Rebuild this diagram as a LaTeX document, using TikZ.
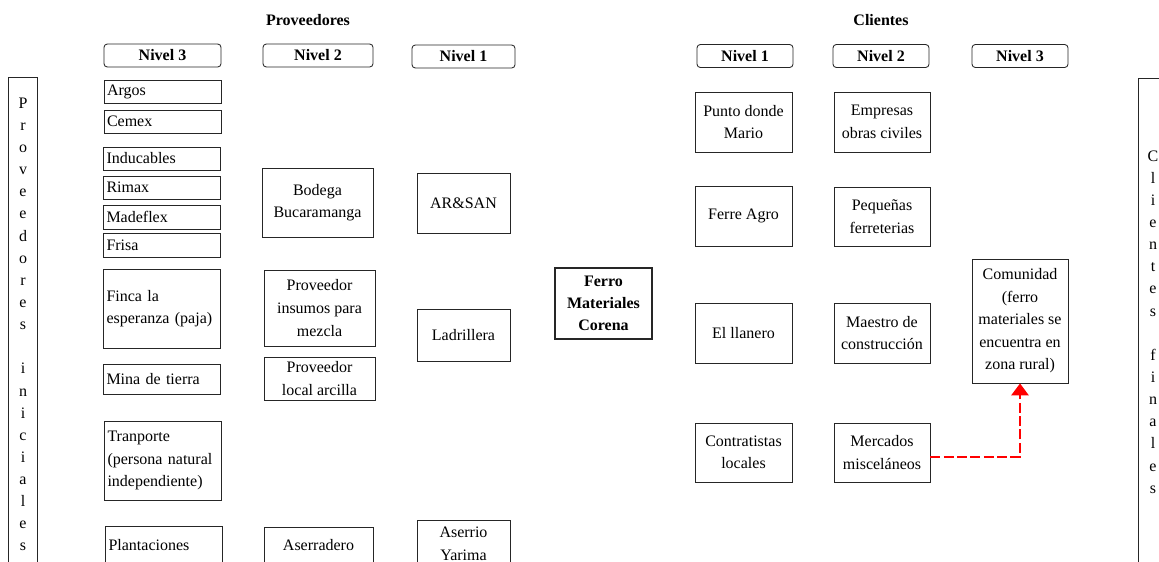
\documentclass[tikz,border=0pt]{standalone}
\usepackage{fontspec}
\setmainfont{Liberation Serif}
\usetikzlibrary{arrows.meta}

\begin{document}
\begin{tikzpicture}[x=0.75pt,y=-0.75pt,
    caja/.style 2 args={draw=black!85,rectangle,line width=0.65pt,minimum width=#1*0.75pt,minimum height=#2*0.75pt,
        inner sep=2pt,align=center,font=\fontsize{12}{16.9}\selectfont},
    cajaizq/.style={caja={117}{#1},align=left,text width=83.25pt,inner xsep=2.25pt},
    nivel/.style={caja={#1}{23},rounded corners=2.5pt,font=\bfseries\fontsize{12}{14}\selectfont},
    titulo/.style={font=\bfseries\fontsize{12}{14}\selectfont},
    vertical/.style={caja={29}{#1},anchor=north,font=\fontsize{12}{16.6}\selectfont},
    flecha/.style={red,line width=1.5pt,dash pattern=on 7.5pt off 2.5pt,-{Triangle[width=13pt,length=9pt]}}]
    \clip (0,0) rectangle (1159,561);

    % encabezados
    \node[titulo] (proveedores) at (308,20) {Proveedores};
    \node[titulo] (clientes) at (881,20) {Clientes};
    \node[nivel=117] (pnivel3) at (162.5,55.5) {Nivel 3};
    \node[nivel=110] (pnivel2) at (318,55.5) {Nivel 2};
    \node[nivel=103] (pnivel1) at (463.5,56.5) {Nivel 1};
    \node[nivel=96] (cnivel1) at (745,56) {Nivel 1};
    \node[nivel=96] (cnivel2) at (881,56) {Nivel 2};
    \node[nivel=96] (cnivel3) at (1020,56) {Nivel 3};

    % columnas laterales
    \node[vertical=494] (iniciales) at (23,77)
        {P\\r\\o\\v\\e\\e\\d\\o\\r\\e\\s\\[16.6pt]i\\n\\i\\c\\i\\a\\l\\e\\s};
    \node[vertical=487] (finales) at (1153,78)
        {C\\l\\i\\e\\n\\t\\e\\s\\[16.6pt]f\\i\\n\\a\\l\\e\\s};

    % proveedores nivel 3
    \node[cajaizq=23] (argos) at (162.5,91.5) {Argos};
    \node[cajaizq=23] (cemex) at (162.5,121.5) {Cemex};
    \node[cajaizq=23] (inducables) at (162,158.5) {Inducables};
    \node[cajaizq=23] (rimax) at (162,187.5) {Rimax};
    \node[cajaizq=24] (madeflex) at (162,217) {Madeflex};
    \node[cajaizq=24] (frisa) at (162,245) {Frisa};
    \node[cajaizq=79] (finca) at (162,308.5) {Finca la\\esperanza (paja)};
    \node[cajaizq=30] (mina) at (162,379) {Mina de tierra};
    \node[cajaizq=79] (tranporte) at (163,460.5) {Tranporte\\(persona natural\\independiente)};
    \node[cajaizq=38] (plantaciones) at (164,545) {Plantaciones};

    % proveedores nivel 2
    \node[caja={111}{69}] (bodega) at (317.5,202.5) {Bodega\\Bucaramanga};
    \node[caja={111}{76}] (insumos) at (319.5,308) {Proveedor\\insumos para\\mezcla};
    \node[caja={111}{43}] (arcilla) at (319.5,378.5) {Proveedor\\local arcilla};
    \node[caja={109}{36}] (aserradero) at (318.5,545) {Aserradero};

    % proveedores nivel 1
    \node[caja={93}{60}] (arsan) at (463.5,203) {AR\&SAN};
    \node[caja={93}{52}] (ladrillera) at (463.5,335) {Ladrillera};
    \node[caja={93}{48}] (aserrio) at (463.5,544) {Aserrio\\Yarima};

    % empresa focal
    \node[caja={97}{71},line width=1.6pt,font=\bfseries\fontsize{12}{16.5}\selectfont] (ferro) at (603.5,303.5)
        {Ferro\\Materiales\\Corena};

    % clientes nivel 1
    \node[caja={97}{60}] (mario) at (743.5,122) {Punto donde\\Mario};
    \node[caja={97}{60}] (ferreagro) at (743.5,216) {Ferre Agro};
    \node[caja={97}{60}] (llanero) at (743.5,333) {El llanero};
    \node[caja={97}{59}] (contratistas) at (743.5,452.5) {Contratistas\\locales};

    % clientes nivel 2
    \node[caja={96}{60}] (empresas) at (882,122) {Empresas\\obras civiles};
    \node[caja={96}{59}] (pequenas) at (882,216.5) {Pequeñas\\ferreterias};
    \node[caja={96}{60}] (maestro) at (882,333) {Maestro de\\construcción};
    \node[caja={96}{59}] (mercados) at (882,452.5) {Mercados\\misceláneos};

    % clientes nivel 3
    \node[caja={96}{124}] (comunidad) at (1020,321)
        {Comunidad\\(ferro\\materiales se\\encuentra en\\zona rural)};

    \draw[flecha] ([yshift=-3pt]mercados.east) -| (comunidad.south);
\end{tikzpicture}
\end{document}
